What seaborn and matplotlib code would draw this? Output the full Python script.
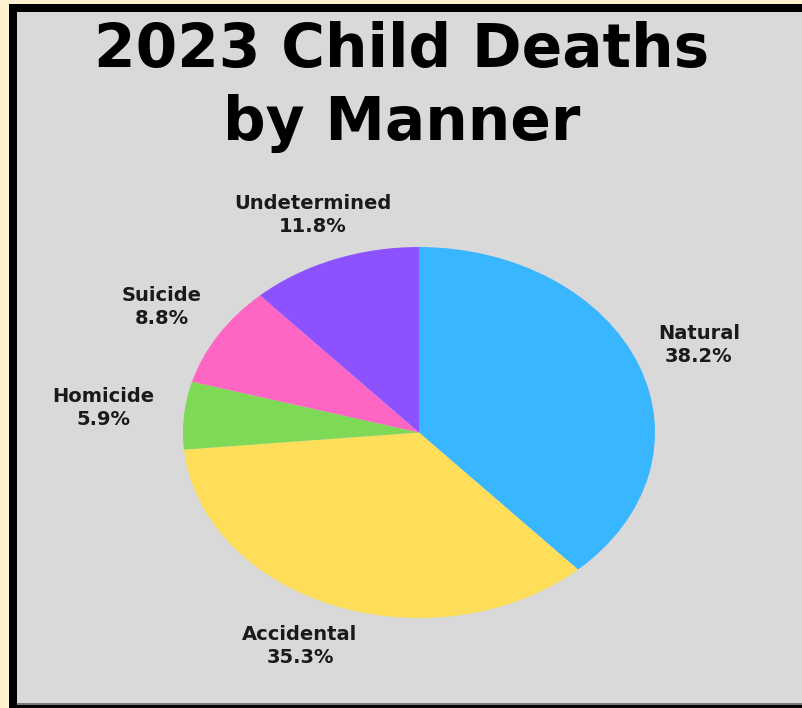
import matplotlib
matplotlib.use("Agg")
import matplotlib.pyplot as plt
from matplotlib.patches import Rectangle
import seaborn as sns

categories = ["Natural", "Accidental", "Homicide", "Suicide", "Undetermined"]
counts = [13, 12, 2, 3, 4]
pct_labels = ["38.2%", "35.3%", "5.9%", "8.8%", "11.8%"]
colors = ["#38B6FF", "#FFDE59", "#7ED957", "#FF66C4", "#8C52FF"]
title_lines = ["2023 Child Deaths", "by Manner"]

sns.set_style("white")
plt.rcParams["font.family"] = ["DejaVu Sans"]

W, H = 803, 708
fig = plt.figure(figsize=(W / 100, H / 100), dpi=100, facecolor="#FFF2D1")

# background frame in pixel coordinates
bg = fig.add_axes([0, 0, 1, 1])
bg.set_xlim(0, W)
bg.set_ylim(H, 0)
bg.axis("off")
bg.add_patch(Rectangle((9, 4), W, H, facecolor="black", edgecolor="none"))
bg.add_patch(Rectangle((17, 12), W, 692, facecolor="#D9D9D9", edgecolor="none"))
bg.add_patch(Rectangle((17, 703), W, 1.5, facecolor="#7A7A7A", edgecolor="none"))

bg.text(402, 67, title_lines[0], ha="center", va="baseline", fontsize=43,
        fontweight="bold", color="black")
bg.text(402, 140, title_lines[1], ha="center", va="baseline", fontsize=43,
        fontweight="bold", color="black")

# pie axes (ellipse box)
x0, y0, x1, y1 = 183, 247, 655, 618
pax = fig.add_axes([x0 / W, 1 - y1 / H, (x1 - x0) / W, (y1 - y0) / H])
pax.pie(counts, colors=sns.color_palette(colors), startangle=90, counterclock=False,
        radius=1, wedgeprops=dict(linewidth=0))
pax.set_aspect("auto")
pax.set_xlim(-1, 1)
pax.set_ylim(-1, 1)
pax.axis("off")

label_pos = {
    "Natural": (699, 345),
    "Accidental": (300, 646),
    "Homicide": (103, 408),
    "Suicide": (162, 307),
    "Undetermined": (313, 215),
}
for cat, pct in zip(categories, pct_labels):
    x, y = label_pos[cat]
    bg.text(x, y, f"{cat}\n{pct}", ha="center", va="center", fontsize=14,
            fontweight="bold", color="#1a1a1a", linespacing=1.3)

fig.savefig("out.png", dpi=100, facecolor=fig.get_facecolor())
